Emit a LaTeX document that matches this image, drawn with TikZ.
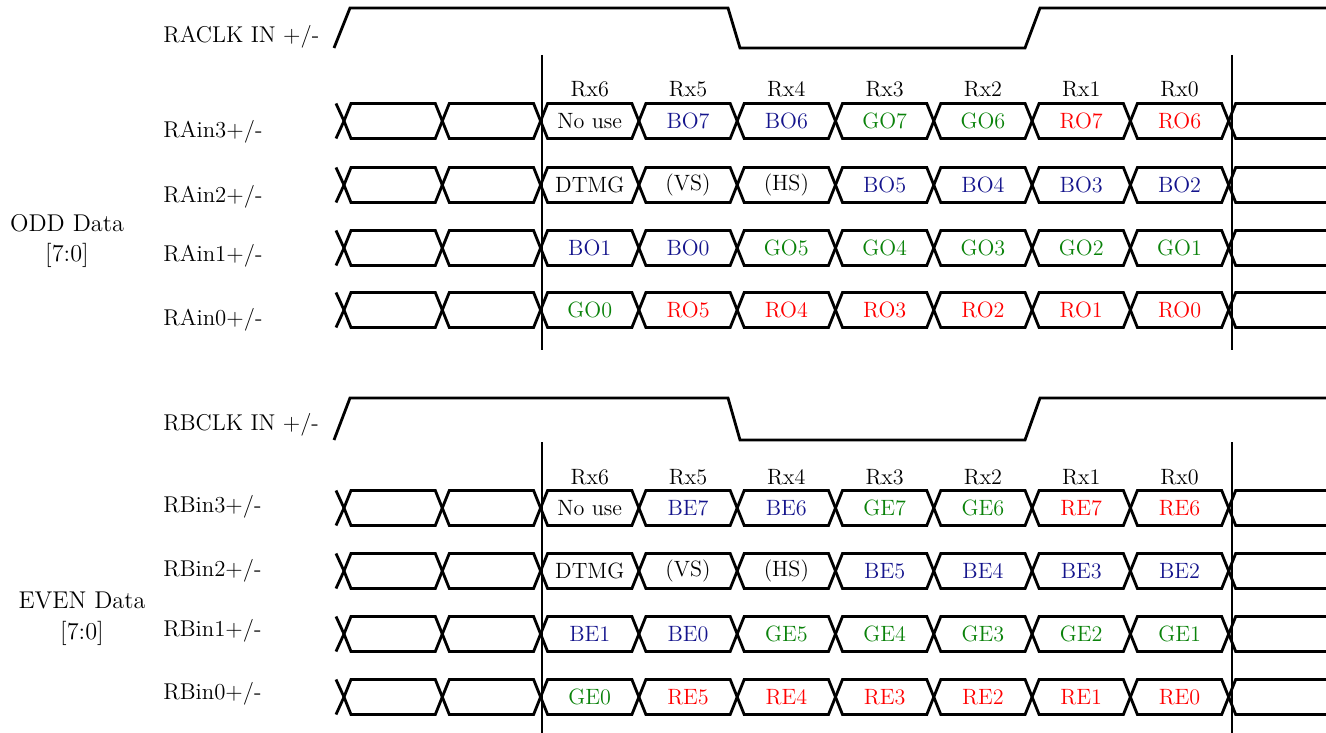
\documentclass[tikz,border=0pt]{standalone}
\usepackage{tikz}

\definecolor{bnavy}{RGB}{20,20,140}
\definecolor{sgreen}{RGB}{10,130,10}
\definecolor{sred}{RGB}{255,0,0}

\newcommand{\sx}{344}
\newcommand{\cw}{98.3}

% one bus row: name, centre y, cells Rx6..Rx0
\newcommand{\busrow}[3]{%
  \draw[bus] (\sx-8,#2-17.5) -- (\sx,#2) -- (\sx-8,#2+17.5);
  \foreach \k in {0,...,8}
    \draw[bus] ({\sx+\cw*\k},#2) -- ++(7,-17.5) -- ({\sx+\cw*(\k+1)-7},#2-17.5) -- ++(7,17.5)
      -- ++(-7,17.5) -- ({\sx+\cw*\k+7},#2+17.5) -- cycle;
  \draw[bus] (1326,#2-17.5) -- ({\sx+9*\cw+7},#2-17.5) -- ++(-7,17.5) -- ++(7,17.5) -- (1326,#2+17.5);
  \foreach \t/\col [count=\k from 2] in {#3}
    \node[cell,text=\col] (#1-\k) at ({\sx+\cw*(\k+0.5)},#2) {\t};
}

\begin{document}
\begin{tikzpicture}[x=0.02cm,y=-0.02cm,
    bus/.style={line width=1.6pt,line join=miter},
    frameline/.style={line width=1.4pt},
    cell/.style={inner sep=0pt,font=\fontsize{12.6}{14}\selectfont},
    sig/.style={anchor=west,inner sep=0pt,font=\fontsize{13}{15}\selectfont},
    grp/.style={align=center,inner sep=0pt,font=\fontsize{13.8}{17.6}\selectfont}]
 \useasboundingbox (0,0) rectangle (1326,733);

 % ODD
 \draw[bus] (334,48) -- (350,8) -- (728,8) -- (740,48) -- (1025,48) -- (1040,8) -- (1326,8);
 \draw[frameline] (542,55) -- (542,350);
 \draw[frameline] (1232,55) -- (1232,350);
 \foreach \r [count=\k from 2] in {6,5,4,3,2,1,0}
    \node[cell] (rxa\r) at ({\sx+\cw*(\k+0.5)},89) {Rx\r};
 \busrow{a3}{121}{No use/black, BO7/bnavy, BO6/bnavy, GO7/sgreen, GO6/sgreen, RO7/sred, RO6/sred}
 \busrow{a2}{185}{DTMG/black, (VS)/black, (HS)/black, BO5/bnavy, BO4/bnavy, BO3/bnavy, BO2/bnavy}
 \busrow{a1}{248}{BO1/bnavy, BO0/bnavy, GO5/sgreen, GO4/sgreen, GO3/sgreen, GO2/sgreen, GO1/sgreen}
 \busrow{a0}{310}{GO0/sgreen, RO5/sred, RO4/sred, RO3/sred, RO2/sred, RO1/sred, RO0/sred}
 \node[sig] (raclk) at (163,37) {RACLK IN +/-};
 \node[sig] (rain3) at (163,132) {RAin3+/-};
 \node[sig] (rain2) at (163,197) {RAin2+/-};
 \node[sig] (rain1) at (163,256) {RAin1+/-};
 \node[sig] (rain0) at (163,320) {RAin0+/-};
 \node[grp] (odd) at (67,241) {ODD Data\\{[7:0]}};

 % EVEN
 \draw[bus] (334,440) -- (350,398) -- (728,398) -- (740,440) -- (1025,440) -- (1040,398) -- (1326,398);
 \draw[frameline] (542,442) -- (542,733);
 \draw[frameline] (1232,442) -- (1232,733);
 \foreach \r [count=\k from 2] in {6,5,4,3,2,1,0}
    \node[cell] (rxb\r) at ({\sx+\cw*(\k+0.5)},477) {Rx\r};
 \busrow{b3}{508}{No use/black, BE7/bnavy, BE6/bnavy, GE7/sgreen, GE6/sgreen, RE7/sred, RE6/sred}
 \busrow{b2}{571}{DTMG/black, (VS)/black, (HS)/black, BE5/bnavy, BE4/bnavy, BE3/bnavy, BE2/bnavy}
 \busrow{b1}{634}{BE1/bnavy, BE0/bnavy, GE5/sgreen, GE4/sgreen, GE3/sgreen, GE2/sgreen, GE1/sgreen}
 \busrow{b0}{697}{GE0/sgreen, RE5/sred, RE4/sred, RE3/sred, RE2/sred, RE1/sred, RE0/sred}
 \node[sig] (rbclk) at (163,425) {RBCLK IN +/-};
 \node[sig] (rbin3) at (163,507) {RBin3+/-};
 \node[sig] (rbin2) at (163,571) {RBin2+/-};
 \node[sig] (rbin1) at (163,631) {RBin1+/-};
 \node[sig] (rbin0) at (163,694) {RBin0+/-};
 \node[grp] (even) at (82,619) {EVEN Data\\{[7:0]}};
\end{tikzpicture}
\end{document}
